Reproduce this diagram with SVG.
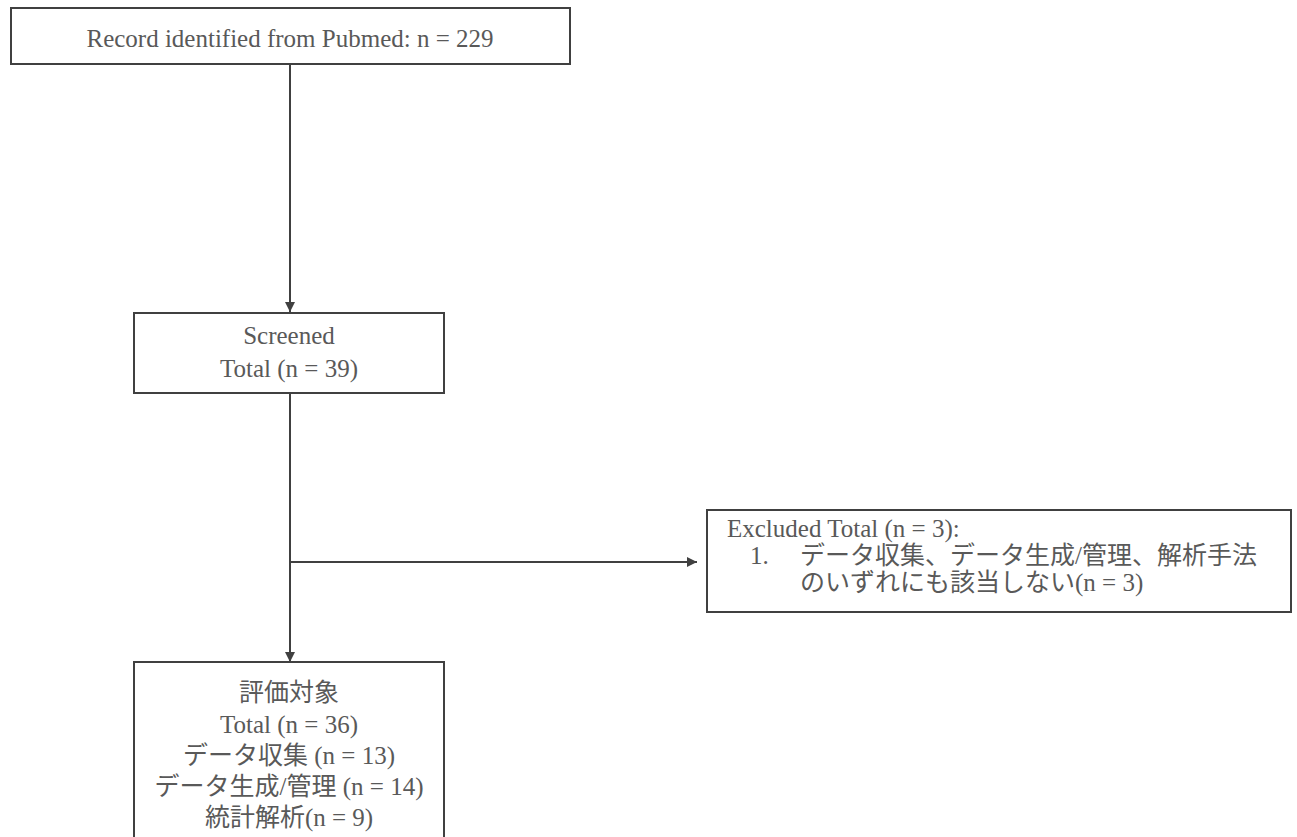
<svg xmlns="http://www.w3.org/2000/svg" width="1297" height="837" viewBox="0 0 1297 837">
<style>
.box{fill:#fff;stroke:#404040;stroke-width:2}
.t{font-family:"Liberation Serif","Noto Sans CJK JP",serif;font-size:25px;fill:#595959}
.c{text-anchor:middle}
.ln{stroke:#404040;stroke-width:2;fill:none}
</style>
<defs>
<marker id="ah" viewBox="0 0 10 10" refX="10" refY="5" markerWidth="10" markerHeight="10" markerUnits="userSpaceOnUse" orient="auto">
<path d="M0,0 L10,5 L0,10 Z" fill="#404040"/>
</marker>
</defs>
<rect width="1297" height="837" fill="#fff"/>
<g id="connectors">
<line class="ln" x1="290" y1="64" x2="290" y2="312" marker-end="url(#ah)"/>
<line class="ln" x1="290" y1="393" x2="290" y2="662" marker-end="url(#ah)"/>
<line class="ln" x1="290" y1="562" x2="697" y2="562" marker-end="url(#ah)"/>
</g>
<g id="node-records">
<rect class="box" x="11" y="8" width="559" height="56"/>
<text class="t c" x="290" y="47">Record identified from Pubmed: n = 229</text>
</g>
<g id="node-screened">
<rect class="box" x="134" y="313" width="310" height="80"/>
<text class="t c" x="289" y="344">Screened</text>
<text class="t c" x="289" y="377">Total (n = 39)</text>
</g>
<g id="node-excluded">
<rect class="box" x="707" y="510" width="584" height="102"/>
<text class="t" x="727" y="537">Excluded Total (n = 3):</text>
<text class="t" x="750" y="564">1.</text>
<text class="t" x="800" y="564">データ収集、データ生成/管理、解析手法</text>
<text class="t" x="800" y="591">のいずれにも該当しない(n = 3)</text>
</g>
<g id="node-evaluated">
<rect class="box" x="134" y="662" width="310" height="200"/>
<text class="t c" x="289" y="701">評価対象</text>
<text class="t c" x="289" y="733">Total (n = 36)</text>
<text class="t c" x="289" y="764">データ収集 (n = 13)</text>
<text class="t c" x="289" y="795">データ生成/管理 (n = 14)</text>
<text class="t c" x="289" y="826">統計解析(n = 9)</text>
</g>
</svg>
